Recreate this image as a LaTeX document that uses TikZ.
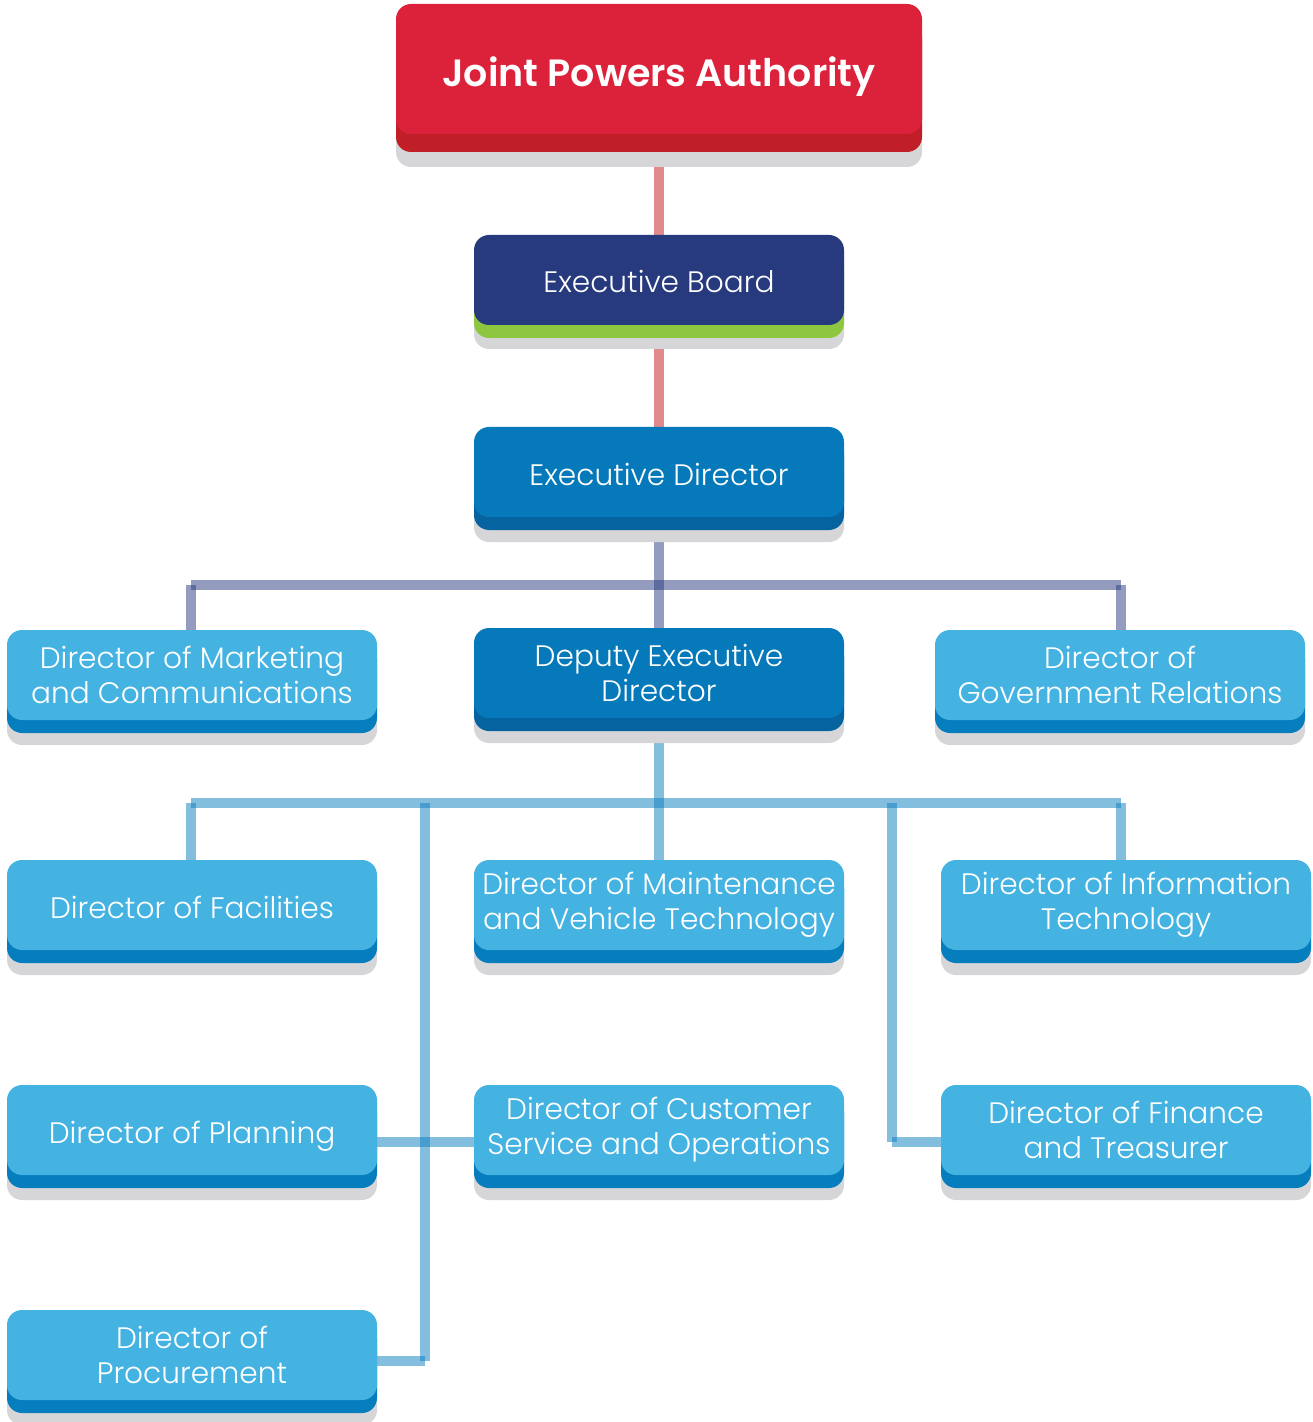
\documentclass[tikz,border=0pt]{standalone}
\usepackage{fontspec}
\setmainfont{Poppins}[UprightFont={* Light}, BoldFont={* SemiBold}]
\usetikzlibrary{positioning}
\usetikzlibrary{shadows}
\usetikzlibrary{backgrounds}

\definecolor{jpared}{HTML}{DC223B}
\definecolor{jpadark}{HTML}{C01F28}
\definecolor{boardnavy}{HTML}{283A7E}
\definecolor{boardgreen}{HTML}{8DC63F}
\definecolor{execblue}{HTML}{0579B9}
\definecolor{execdark}{HTML}{05639F}
\definecolor{staffblue}{HTML}{45B3E2}
\definecolor{staffdark}{HTML}{067DBD}
\definecolor{shadegrey}{HTML}{D6D6D9}
\definecolor{linkred}{HTML}{E08A8E}
\definecolor{linkblue}{HTML}{0A7DBD}

\begin{document}
\begin{tikzpicture} [x=0.5pt, y=-0.5pt, align=center, text=white,
            font=\fontsize{14.8}{17.5}\selectfont, inner sep=0pt,
            line cap=rect]

            \tikzstyle{box} = [rectangle, rounded corners=7.5pt,
                minimum width=185pt, minimum height=45pt]
            \tikzstyle{oneline} = [text height=13pt, text depth=0pt]
            \tikzstyle{authority} = [box, fill=jpared, minimum width=263pt,
                minimum height=65pt, font=\fontsize{19}{22}\selectfont\bfseries,
                text height=18pt, text depth=0pt,
                general shadow={fill=shadegrey, shadow yshift=-16.5pt},
                general shadow={fill=jpadark, shadow yshift=-9pt}]
            \tikzstyle{board} = [box, fill=boardnavy,
                general shadow={fill=shadegrey, shadow yshift=-12pt},
                general shadow={fill=boardgreen, shadow yshift=-6.5pt}]
            \tikzstyle{exec} = [box, fill=execblue,
                general shadow={fill=shadegrey, shadow yshift=-12.5pt},
                general shadow={fill=execdark, shadow yshift=-6.5pt}]
            \tikzstyle{staff} = [box, fill=staffblue,
                general shadow={fill=shadegrey, shadow yshift=-12.5pt},
                general shadow={fill=staffdark, shadow yshift=-6.5pt}]
            \tikzstyle{redlink} = [draw=linkred, line width=5pt, line cap=butt]
            \tikzstyle{navylink} = [draw=boardnavy, draw opacity=0.5, line width=5pt]
            \tikzstyle{bluelink} = [draw=linkblue, draw opacity=0.5, line width=5pt]

            \useasboundingbox (0, 0) rectangle (1312, 1422);

            \node[authority](jpa) at(659, 69) {Joint Powers Authority};
            \node[board, oneline](board) at(659, 280) {Executive Board};
            \node[exec, oneline](exec_dir) at(659, 472) {Executive Director};

            \node[staff](marketing) at(192, 675) {Director of Marketing\\and Communications};
            \node[exec](deputy) at(659, 673) {Deputy Executive\\Director};
            \node[staff](gov_rel) at(1120, 675) {Director of\\Government Relations};

            \node[staff, oneline](facilities) at(192, 905) {Director of Facilities};
            \node[staff](maintenance) at(659, 905) {Director of Maintenance\\and Vehicle Technology};
            \node[staff](info_tech) at(1126, 905) {Director of Information\\Technology};

            \node[staff, oneline](planning) at(192, 1130) {Director of Planning};
            \node[staff](customer) at(659, 1130) {Director of Customer\\Service and Operations};
            \node[staff](finance) at(1126, 1130) {Director of Finance\\and Treasurer};

            \node[staff](procurement) at(192, 1355) {Director of\\Procurement};

            \coordinate (bus_l) at(191, 585);
            \coordinate (bus_r) at(1121, 585);
            \coordinate (sub_l) at(191, 803);
            \coordinate (sub_r) at(1121, 803);
            \coordinate (sub_proc) at(425, 803);
            \coordinate (sub_fin) at(892, 803);
            \coordinate (proc_join) at(425, 1361);
            \coordinate (fin_join) at(892, 1142);

            \begin{scope}[on background layer]
            \draw[redlink] (jpa.south) -- (board.north);
            \draw[redlink] (board.south) -- (exec_dir.north);

            \draw[navylink] (exec_dir.south) -- (deputy.north);
            \draw[navylink] (bus_l) -- (bus_r);
            \draw[navylink] (bus_l) -- (bus_l |- marketing.north);
            \draw[navylink] (bus_r) -- (bus_r |- gov_rel.north);

            \draw[bluelink] (deputy.south) -- (maintenance.north);
            \draw[bluelink] (sub_l) -- (sub_r);
            \draw[bluelink] (sub_l) -- (sub_l |- facilities.north);
            \draw[bluelink] (sub_r) -- (sub_r |- info_tech.north);
            \draw[bluelink] (sub_proc) -- (proc_join);
            \draw[bluelink] (procurement.east |- proc_join) -- (proc_join);
            \draw[bluelink] (planning.east |- fin_join) -- (customer.west |- fin_join);
            \draw[bluelink] (sub_fin) -- (fin_join);
            \draw[bluelink] (fin_join) -- (finance.west |- fin_join);
            \end{scope}
       \end{tikzpicture}
\end{document}
